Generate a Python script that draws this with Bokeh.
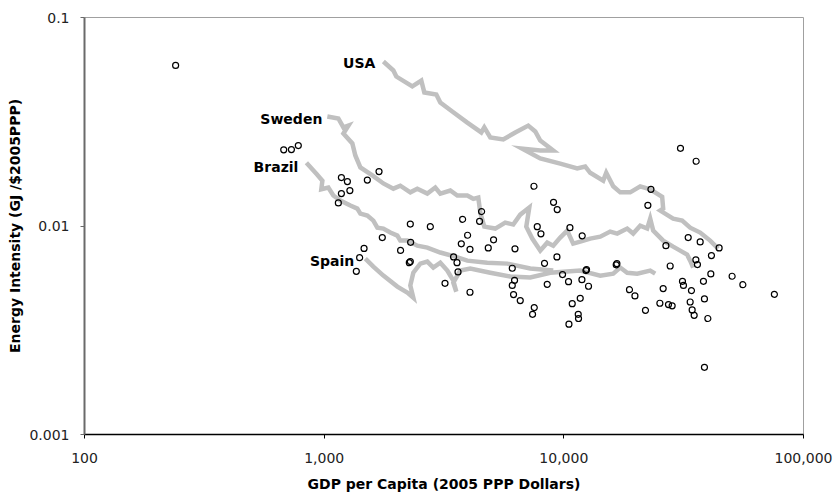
from bokeh.plotting import figure
from bokeh.models import FixedTicker, CustomJSTickFormatter
from bokeh.core.properties import value
from bokeh.embed import file_html
from bokeh.resources import INLINE

# ---- data ----
gdp = [240, 678, 730, 780, 1180, 1250, 1514, 1694, 1180, 1280, 1146, 2288, 2773, 1748,
       2295, 2084, 1467, 1406, 1362, 2266, 2288, 7505, 9058, 9385, 4538, 3781, 4451, 7747,
       10603, 8025, 11930, 3967, 5091, 3734, 4059, 4838, 6254, 3467, 3583, 9359, 8307, 6093,
       3618, 9876, 10462, 11897, 12365, 12436, 12677, 8526, 6229, 6093, 3193, 4059, 6169,
       6579, 10840, 11706, 7527, 7405, 11484, 11516, 10503, 16539, 16650, 30670, 35650,
       23090, 22420, 33030, 37060, 44460, 26660, 41290, 35550, 36100, 27780, 41050, 50370,
       55840, 75600, 31260, 31560, 38240, 34080, 18790, 19800, 25970, 38610, 25160, 27330,
       28310, 33660, 21910, 34310, 34980, 39890, 38610]
intensity = [0.0589, 0.02318, 0.02326, 0.02431, 0.01707, 0.01633, 0.01661, 0.01824, 0.01430,
             0.01479, 0.01290, 0.01021, 0.00993, 0.00880, 0.00835, 0.00764, 0.00781, 0.00705,
             0.00606, 0.00667, 0.00675, 0.01551, 0.01299, 0.01199, 0.01173, 0.01077, 0.01053,
             0.00993, 0.00982, 0.00917, 0.00897, 0.00903, 0.00858, 0.00821, 0.00773, 0.00785,
             0.00777, 0.00711, 0.00667, 0.00711, 0.00662, 0.00627, 0.00602, 0.00585, 0.00541,
             0.00553, 0.00611, 0.00618, 0.00514, 0.00525, 0.00549, 0.00519, 0.00531, 0.00481,
             0.00469, 0.00439, 0.00424, 0.00450, 0.00406, 0.00377, 0.00377, 0.00360, 0.00338,
             0.00651, 0.00660, 0.02359, 0.02044, 0.01500, 0.01257, 0.00880, 0.00839, 0.00785,
             0.00805, 0.00721, 0.00688, 0.00653, 0.00643, 0.00589, 0.00574, 0.00523, 0.00470,
             0.00543, 0.00519, 0.00543, 0.00490, 0.00495, 0.00462, 0.00501, 0.00447, 0.00426,
             0.00420, 0.00414, 0.00432, 0.00394, 0.00396, 0.00373, 0.00360, 0.00210]

usa_gdp = [1766, 1944, 2000, 2332, 2543, 2618, 2937, 3052, 3424, 3956, 4525, 4657, 4933, 5588,
           6272, 7105, 7600, 7973, 9033, 7973, 6707, 7973, 9661, 11370, 12280, 12880, 14600,
           15030, 16070, 17190, 18920, 20830, 22930, 25720, 25970, 25230, 28590, 31170, 33660,
           37060, 40780, 44050]
usa_int = [0.0615, 0.0557, 0.0521, 0.0467, 0.0498, 0.0437, 0.0427, 0.0391, 0.0354, 0.0313,
           0.0281, 0.0297, 0.0266, 0.0260, 0.0281, 0.0303, 0.0284, 0.0257, 0.0230, 0.0230,
           0.0235, 0.0211, 0.0199, 0.0189, 0.0193, 0.0180, 0.0165, 0.0180, 0.0155, 0.0145,
           0.0145, 0.0155, 0.0150, 0.0138, 0.01212, 0.01186, 0.01085, 0.01061, 0.00982,
           0.00930, 0.00851, 0.00779]

sweden_gdp = [1031, 1146, 1203, 1262, 1203, 1311, 1349, 1416, 1589, 1766, 1944, 2078, 2288,
              2447, 2694, 2909, 3052, 3360, 3594, 3956, 4191, 4396, 4481, 4657, 5175, 5695,
              6151, 6579, 7175, 6971, 7384, 7973, 8526, 9033, 9661, 10330, 10940, 11706,
              12880, 14190, 15610, 16700, 18380, 19470, 20830, 22270, 22930, 23600, 25970,
              28590, 30580, 32700, 33660, 34640]
sweden_int = [0.0335, 0.0328, 0.0297, 0.0303, 0.0278, 0.0249, 0.0218, 0.0191, 0.0175, 0.0160,
              0.0151, 0.0156, 0.0145, 0.0151, 0.0143, 0.0153, 0.0143, 0.0148, 0.0140, 0.0140,
              0.0135, 0.0137, 0.0116, 0.00993, 0.00972, 0.01038, 0.01016, 0.01134, 0.01226,
              0.00993, 0.00870, 0.00762, 0.00832, 0.00805, 0.00880, 0.00950, 0.00823, 0.00841,
              0.00870, 0.00889, 0.00940, 0.00920, 0.00972, 0.00920, 0.01004, 0.00972, 0.01085,
              0.00950, 0.00851, 0.00796, 0.00762, 0.00729, 0.00682, 0.00632]

brazil_gdp = [843, 928, 983, 973, 1041, 1092, 1168, 1286, 1375, 1416, 1514, 1604, 1667, 1766,
              1888, 2020, 2078, 2223, 2447, 2694, 3052, 3524, 3956, 4792, 5808, 7244, 9033]
brazil_int = [0.0201, 0.0178, 0.0165, 0.0150, 0.0153, 0.0140, 0.01324, 0.01253, 0.01212,
              0.01147, 0.01122, 0.01061, 0.00982, 0.00972, 0.00930, 0.00899, 0.00851, 0.00851,
              0.00805, 0.00788, 0.00746, 0.00713, 0.00682, 0.00667, 0.00660, 0.00625, 0.00611]

spain_gdp = [1485, 1604, 1766, 2020, 2223, 2355, 2288, 2355, 2519, 2694, 2853, 3052, 3265,
             3458, 3559, 3458, 3698, 4071, 4933, 5975, 7244, 8776, 11706, 14190, 16070, 17190,
             18380, 20240, 22930, 24060]
spain_int = [0.00698, 0.00639, 0.00578, 0.00512, 0.00479, 0.00453, 0.00518, 0.00597, 0.00660,
             0.00675, 0.00632, 0.00667, 0.00611, 0.00547, 0.00484, 0.00535, 0.00611, 0.00625,
             0.00597, 0.00572, 0.00566, 0.00597, 0.00611, 0.00578, 0.00591, 0.00632, 0.00597,
             0.00591, 0.00611, 0.00591]

country_names = ["USA", "Sweden", "Brazil", "Spain"]
country_paths = [(usa_gdp, usa_int), (sweden_gdp, sweden_int),
                 (brazil_gdp, brazil_int), (spain_gdp, spain_int)]

x_ticks = [100, 1000, 10000, 100000]
y_ticks = [0.001, 0.01, 0.1]

# ---- styling ----
label_dx = [-8, -5, -8, -11]
label_dy = [1, 2, 4, 2]
FONT = "DejaVu Sans"

p = figure(width=834, height=494, x_axis_type="log", y_axis_type="log",
           x_range=(100, 100000), y_range=(0.001, 0.1),
           output_backend="svg", toolbar_location=None,
           min_border_left=84, min_border_right=31, min_border_top=17, min_border_bottom=60)
p.grid.visible = False
p.outline_line_color = "#a0a0a0"
p.outline_line_width = 1
p.background_fill_color = "white"
p.border_fill_color = "white"

for (gx, gy) in country_paths:
    p.line(gx, gy, line_color="#c0c0c0", line_width=4.5, line_join="miter")

p.scatter(gdp, intensity, marker="circle", size=6, fill_color=None,
          line_color="black", line_width=1.2)

p.text(x=[c[0][0] for c in country_paths], y=[c[1][0] for c in country_paths],
       text=country_names, x_offset=label_dx, y_offset=label_dy,
       text_align="right", text_baseline="middle",
       text_font=value(FONT), text_font_style="bold", text_font_size="14px",
       text_color="black")

xa = p.xaxis[0]
xa.ticker = FixedTicker(ticks=x_ticks, minor_ticks=[])
xa.formatter = CustomJSTickFormatter(code="return Math.round(tick).toLocaleString('en-US');")
xa.axis_label = "GDP per Capita (2005 PPP Dollars)"
xa.axis_line_color = "black"
xa.axis_line_width = 1.5
xa.major_tick_line_color = "black"
xa.major_tick_out = 4
xa.major_tick_in = 0
xa.minor_tick_line_color = None
xa.major_label_standoff = 14
xa.axis_label_standoff = 10

ya = p.yaxis[0]
ya.ticker = FixedTicker(ticks=y_ticks, minor_ticks=[])
ya.formatter = CustomJSTickFormatter(code="return String(tick);")
ya.axis_label = "Energy Intensity (GJ /$2005PPP)"
ya.axis_line_color = "#6a6a6a"
ya.axis_line_width = 2
ya.major_tick_line_color = "#6a6a6a"
ya.major_tick_out = 4
ya.major_tick_in = 0
ya.minor_tick_line_color = None
ya.major_label_standoff = 11
ya.axis_label_standoff = 3

for ax in (xa, ya):
    ax.major_label_text_font = FONT
    ax.major_label_text_font_size = "14px"
    ax.major_label_text_color = "#222222"
    ax.axis_label_text_font = FONT
    ax.axis_label_text_font_size = "14px"
    ax.axis_label_text_font_style = "bold"
    ax.axis_label_text_color = "black"

open("out.html", "w").write(file_html(p, INLINE))
